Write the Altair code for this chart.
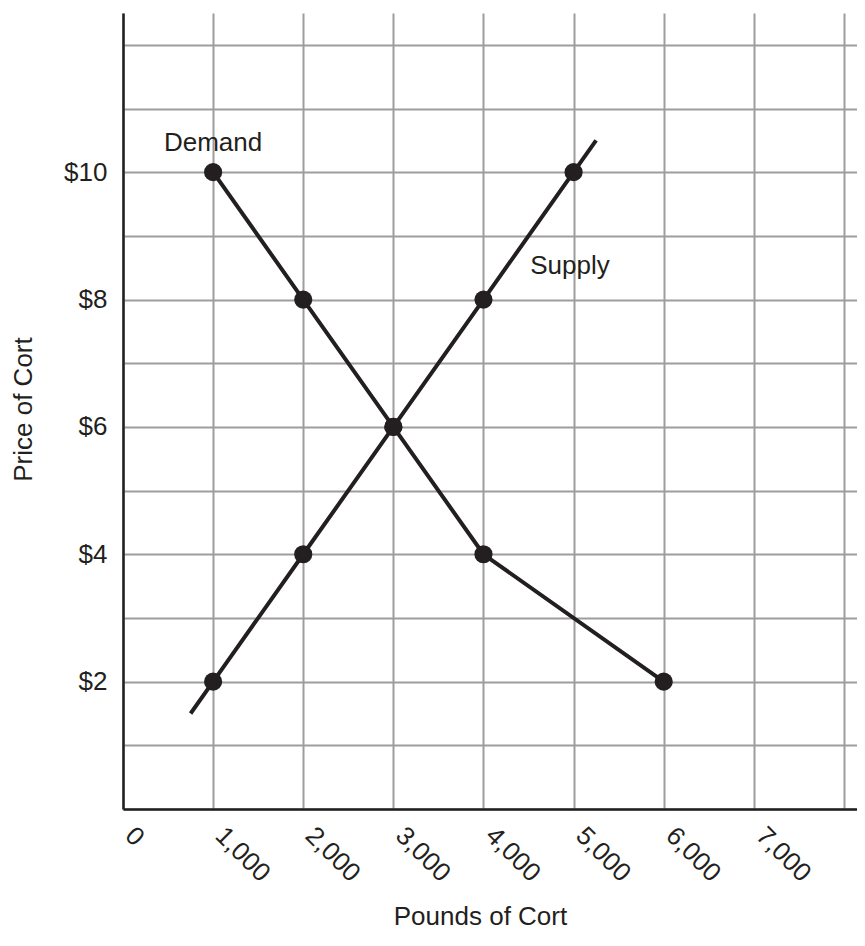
import altair as alt
import pandas as pd

# Data
demand_q = [1000, 2000, 3000, 4000, 6000]
demand_p = [10, 8, 6, 4, 2]
supply_q = [1000, 2000, 3000, 4000, 5000]
supply_p = [2, 4, 6, 8, 10]
# supply line extends slightly past its end points
supply_line_q = [750, 1000, 2000, 3000, 4000, 5000, 5250]
supply_line_p = [1.5, 2, 4, 6, 8, 10, 10.5]

label_text = ["Demand", "Supply"]
label_q = [1000, 4960]
label_p = [10.46, 8.52]

x_ticks = [0, 1000, 2000, 3000, 4000, 5000, 6000, 7000, 8000]
y_ticks = list(range(0, 13))

FONT = "Liberation Sans"
INK = "#231f20"
FS = 26

points = pd.DataFrame(
    {"q": demand_q + supply_q, "p": demand_p + supply_p,
     "curve": ["Demand"] * len(demand_q) + ["Supply"] * len(supply_q)}
)
lines = pd.DataFrame(
    {"q": demand_q + supply_line_q, "p": demand_p + supply_line_p,
     "curve": ["Demand"] * len(demand_q) + ["Supply"] * len(supply_line_q)}
)
labels = pd.DataFrame({"text": label_text, "q": label_q, "p": label_p})

xscale = alt.Scale(domain=[0, 8145], nice=False, zero=False)
yscale = alt.Scale(domain=[0, 12.5], nice=False, zero=False)

xaxis = alt.Axis(
    values=x_ticks,
    labelExpr="datum.value <= 7000 ? format(datum.value, ',d') : ''",
    labelAngle=45, labelAlign="left", labelBaseline="middle", labelPadding=22,
    labelOffset=6,
    title="Pounds of Cort", titleX=357, titleY=107, titleBaseline="middle",
    titleAlign="center",
)
yaxis = alt.Axis(
    values=y_ticks,
    labelExpr="(datum.value % 2 == 0 && datum.value > 0 && datum.value <= 10) ? '$' + datum.value : ''",
    labelPadding=16, labelBaseline="middle",
    title="Price of Cort", titleX=-100, titleY=396, titleBaseline="middle",
    titleAlign="center", titleAngle=270,
)

base_x = alt.X("q:Q", scale=xscale, axis=xaxis)
base_y = alt.Y("p:Q", scale=yscale, axis=yaxis)

line_layer = alt.Chart(lines).mark_line(color=INK, strokeWidth=4).encode(
    x=base_x, y=base_y, detail="curve:N", order=alt.Order("q:Q")
)
point_layer = alt.Chart(points).mark_circle(color=INK, opacity=1, size=330).encode(
    x=alt.X("q:Q", scale=xscale), y=alt.Y("p:Q", scale=yscale)
)
text_layer = alt.Chart(labels).mark_text(
    font=FONT, fontSize=FS, color=INK, align="center", baseline="middle"
).encode(
    x=alt.X("q:Q", scale=xscale), y=alt.Y("p:Q", scale=yscale), text="text:N"
)

chart = (
    alt.layer(line_layer, point_layer, text_layer)
    .properties(
        width=734, height=796,
        autosize=alt.AutoSizeParams(type="none"),
        padding={"left": 115, "top": 5, "right": 0, "bottom": 123},
    )
    .configure_view(stroke=None)
    .configure_axis(
        domainColor=INK, domainWidth=2.5, ticks=False,
        grid=True, gridColor="#9d9d9f", gridWidth=2, gridOpacity=1,
        labelFont=FONT, labelFontSize=FS, labelColor=INK,
        titleFont=FONT, titleFontSize=FS, titleColor=INK, titleFontWeight="normal",
    )
)

chart.save("out.html", embed_options={"renderer": "svg", "actions": False})
